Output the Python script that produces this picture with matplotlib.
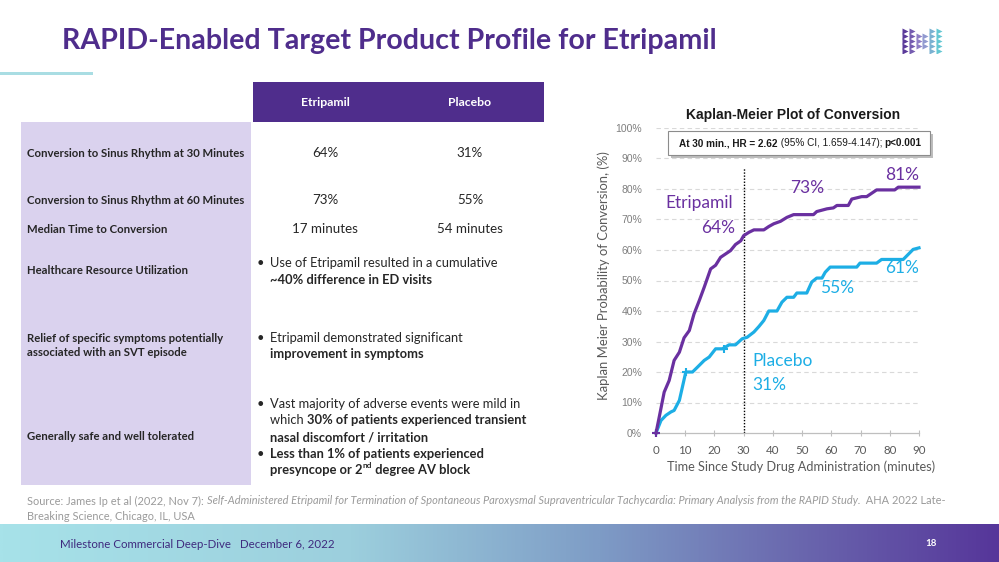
import matplotlib
matplotlib.use('Agg')
import matplotlib.pyplot as plt
import numpy as np
from matplotlib.patches import Rectangle
from matplotlib.colors import LinearSegmentedColormap

# ---------------- data ----------------
etr_time = [0, 1.1, 2.8, 4.5, 6.2, 8.0, 9.6, 11.4, 13.0, 14.8, 16.5, 18.7, 20.4, 22.1,
            23.8, 25.5, 27.2, 29.0, 30.0, 31.8, 33.5, 36.9, 38.6, 40.3, 42.6, 44.8,
            47.1, 53.9, 55.0, 58.5, 60.7, 61.9, 65.8, 67.0, 70.4, 72.1, 75.5, 81.7,
            82.9, 90.0]
etr_prob = [0, 5.2, 13.4, 17.2, 23.8, 26.5, 31.2, 33.6, 39.0, 43.4, 47.8, 53.8, 55.0, 57.6,
            58.7, 59.8, 61.8, 63.0, 64.7, 65.8, 66.6, 66.6, 67.7, 68.6, 69.4, 70.7,
            71.6, 71.6, 72.6, 73.5, 73.8, 74.6, 74.6, 76.7, 77.5, 77.5, 79.7, 79.7,
            80.6, 80.6]
pla_time = [0, 1.7, 3.4, 5.1, 6.2, 8.0, 10.2, 12.5, 14.2, 16.5, 18.2, 20.4, 22.7, 23.8,
            25.0, 27.2, 29.5, 31.2, 33.5, 35.2, 36.9, 38.6, 41.4, 43.1, 44.8, 47.1,
            48.2, 51.6, 53.3, 55.0, 56.8, 57.9, 59.6, 68.7, 69.8, 75.5, 77.2, 84.6,
            88.0, 90.0]
pla_prob = [0, 4.1, 5.8, 6.9, 7.4, 10.7, 20.0, 20.0, 21.6, 23.8, 24.9, 27.6, 27.6, 28.2,
            28.9, 28.9, 30.9, 31.4, 33.1, 34.9, 36.9, 40.0, 40.0, 42.9, 44.5, 44.5,
            45.9, 45.9, 49.5, 50.8, 50.8, 52.7, 54.4, 54.4, 55.7, 55.7, 56.9, 56.9,
            60.2, 60.7]
pla_censor_time = [0, 10.2, 23.3]
pla_censor_prob = [0, 20.0, 27.6]

xticks = list(range(0, 100, 10))
yticks = list(range(0, 110, 10))
ytick_labels = [f"{v}%" for v in yticks]

columns = ['Etripamil', 'Placebo']
row_labels = ['Conversion to Sinus Rhythm at 30 Minutes',
              'Conversion to Sinus Rhythm at 60 Minutes',
              'Median Time to Conversion',
              'Healthcare Resource Utilization',
              'Relief of specific symptoms potentially\nassociated with an SVT episode',
              'Generally safe and well tolerated']
etr_values = ['64%', '73%', '17 minutes']
pla_values = ['31%', '55%', '54 minutes']

# ---------------- style ----------------
W, H = 999, 562
PURPLE = '#4F2D8C'
ETR_C = '#6A30A0'
PLA_C = '#1DAEE5'
LAV = '#DAD2EE'
TXT = '#262626'
CAL = ['Lato', 'DejaVu Sans']
ARI = ['Liberation Sans', 'DejaVu Sans']

fig = plt.figure(figsize=(W / 100, H / 100), dpi=100)
fig.patch.set_facecolor('white')
renderer = fig.canvas.get_renderer()


def fx(x):
    return x / W


def fy(y):
    return 1 - y / H


def rect(x0, y0, x1, y1, color, z=0, **kw):
    fig.patches.append(Rectangle((fx(x0), fy(y1)), fx(x1) - fx(x0), fy(y0) - fy(y1),
                                 transform=fig.transFigure, facecolor=color,
                                 edgecolor=kw.pop('ec', 'none'), zorder=z, **kw))


def runs(x, y, parts, size, color=TXT, family=CAL, z=3):
    cur = x
    for p in parts:
        txt, weight = p[0], p[1]
        dy = p[2] if len(p) > 2 else 0
        sz = p[3] if len(p) > 3 else size
        style = p[4] if len(p) > 4 else 'normal'
        t = fig.text(fx(cur), fy(y + dy), txt, fontsize=sz, fontweight=weight,
                     fontstyle=style, color=color, family=family, va='center',
                     ha='left', zorder=z)
        cur += t.get_window_extent(renderer).width
    return cur


# ---------------- title area ----------------
fig.text(fx(62), fy(41), 'RAPID-Enabled Target Product Profile for Etripamil',
         fontsize=20.6, fontweight='bold', color=PURPLE, family=CAL, va='center', ha='left')
rect(0, 72, 93, 74.5, '#A9DDE3')

# logo: small triangles
logo_ax = fig.add_axes([fx(902), fy(53), fx(40), (53 - 28) / H])
logo_ax.set_xlim(-0.5, 5.5)
logo_ax.set_ylim(-0.5, 4.5)
logo_ax.axis('off')
cmap_logo = LinearSegmentedColormap.from_list('lg', ['#5B3A9A', '#9C8FD0', '#63C7D2'])
for c in range(6):
    rows = range(5) if c in (0, 1, 4, 5) else (1, 2, 3)
    for r in rows:
        logo_ax.plot(c, r, marker='>', ms=4.0, color=cmap_logo(c / 5), mec='none')

# ---------------- table ----------------
rect(253, 82, 544, 122, PURPLE)
fig.text(fx(325), fy(102), columns[0], fontsize=8.8, fontweight='bold', color='white',
         family=CAL, ha='center', va='center')
fig.text(fx(470), fy(102), columns[1], fontsize=8.8, fontweight='bold', color='white',
         family=CAL, ha='center', va='center')
rect(21, 122, 251, 485, LAV)

label_y = [153, 200, 229, 270, 345.5, 437]
for lab, yy in zip(row_labels, label_y):
    fig.text(fx(27), fy(yy), lab, fontsize=8.2, fontweight='bold', color=TXT,
             family=CAL, ha='left', va='center', linespacing=1.3)

VS = 9.6
for v, yy in zip(etr_values, label_y[:3]):
    fig.text(fx(325), fy(yy), v, fontsize=VS, color=TXT, family=CAL, ha='center', va='center')
for v, yy in zip(pla_values, label_y[:3]):
    fig.text(fx(470), fy(yy), v, fontsize=VS, color=TXT, family=CAL, ha='center', va='center')

BS = 9.3
bullet_x, text_x = 257, 270
bullets = [
    (263, True, [('Use of Etripamil resulted in a cumulative', 'normal')]),
    (280, False, [('~40% difference in ED visits', 'bold')]),
    (338, True, [('Etripamil demonstrated significant', 'normal')]),
    (354, False, [('improvement in symptoms', 'bold')]),
    (404, True, [('Vast majority of adverse events were mild in', 'normal')]),
    (420, False, [('which ', 'normal'), ('30% of patients experienced transient', 'bold')]),
    (437, False, [('nasal discomfort / irritation', 'bold')]),
    (454, True, [('Less than 1% of patients experienced', 'bold')]),
    (470, False, [('presyncope or 2', 'bold'), ('nd', 'bold', -4, 6.0), (' degree AV block', 'bold')]),
]
for yy, has_b, parts in bullets:
    if has_b:
        fig.text(fx(bullet_x), fy(yy), '\u2022', fontsize=BS, color=TXT, family=CAL,
                 ha='left', va='center')
    runs(text_x, yy, parts, BS)

# ---------------- source ----------------
SRC_C = '#9A9A9A'
SS = 7.9
runs(27, 501, [('Source: James Ip et al (2022, Nov 7): ', 'normal'),
               ('Self-Administered Etripamil for Termination of Spontaneous Paroxysmal '
                'Supraventricular Tachycardia: Primary Analysis from the RAPID Study.',
                'normal', 0, SS, 'italic'),
               ('  AHA 2022 Late-', 'normal')], SS, color=SRC_C)
fig.text(fx(27), fy(516), 'Breaking Science, Chicago, IL, USA', fontsize=SS, color=SRC_C,
         family=CAL, va='center')

# ---------------- footer ----------------
foot = fig.add_axes([0, 0, 1, (H - 524) / H], zorder=-1)
grad_cmap = LinearSegmentedColormap.from_list(
    'ft', [(0, '#A7E2E9'), (0.35, '#9CCFDD'), (0.6, '#7E9CC6'), (0.8, '#6A67AE'), (1, '#56369A')])
foot.imshow(np.linspace(0, 1, 512)[None, :], aspect='auto', cmap=grad_cmap,
            extent=[0, 1, 0, 1])
foot.axis('off')
fig.text(fx(60), fy(544), 'Milestone Commercial Deep-Dive   December 6, 2022', fontsize=8.3,
         color='#3E2A7E', family=CAL, va='center', ha='left')
fig.text(fx(931), fy(544), '18', fontsize=7, fontweight='bold', color='white', family=CAL,
         va='center', ha='center')

# ---------------- KM chart ----------------
ax = fig.add_axes([fx(656), fy(433), fx(919) - fx(656), fy(128) - fy(433)])
ax.set_xlim(0, 90)
ax.set_ylim(0, 100)
ax.set_facecolor('none')
for s in ['left', 'right', 'top']:
    ax.spines[s].set_visible(False)
ax.spines['bottom'].set_color('#BFBFBF')
ax.spines['bottom'].set_linewidth(0.9)
ax.set_yticks(yticks)
ax.set_yticklabels(ytick_labels, family=ARI, fontsize=7.5, color='#7F7F7F')
ax.set_xticks(xticks)
ax.set_xticklabels([str(v) for v in xticks], family=CAL, fontsize=8.3, color='#595959')
ax.tick_params(axis='y', length=0, pad=10)
ax.tick_params(axis='x', direction='inout', length=5, color='#BFBFBF', pad=6)
for v in yticks[1:]:
    ax.axhline(v, color='#D9D9D9', lw=0.8, ls=(0, (4, 3)), zorder=0)
ax.set_xlabel('Time Since Study Drug Administration (minutes)', family=CAL, fontsize=9.2,
              color='#595959')
ax.xaxis.set_label_coords((801 - 656) / (919 - 656), -(467 - 433) / (433 - 128))
ax.set_ylabel('Kaplan Meier Probability of Conversion, (%)', family=CAL, fontsize=9.4,
              color='#595959')
ax.yaxis.set_label_coords(-(656 - 604) / (919 - 656), (433 - 276) / (433 - 128))
ax.yaxis.label.set_va('center')
ax.xaxis.label.set_va('center')

ax.plot([30, 30], [0, 87], ls=(0, (1, 1.2)), color='black', lw=1, zorder=2)
ax.plot(pla_time, pla_prob, color=PLA_C, lw=2.3, solid_joinstyle='round', zorder=3, clip_on=False)
ax.plot(etr_time, etr_prob, color=ETR_C, lw=2.3, solid_joinstyle='round', zorder=4, clip_on=False)
ax.plot(pla_censor_time, pla_censor_prob, ls='none', marker='+', ms=6, mew=1.5, color=PLA_C,
        zorder=4, clip_on=False)
ax.plot([0], [0], ls='none', marker='+', ms=6, mew=1.5, color=ETR_C, zorder=5, clip_on=False)

LS = 12.5
ax.text(3.1, 75.4, 'Etripamil', fontsize=LS, color=ETR_C, family=CAL, va='center', ha='left')
ax.text(27.0, 67.2, '64%', fontsize=LS, color=ETR_C, family=CAL, va='center', ha='right')
ax.text(45.9, 80.3, '73%', fontsize=LS, color=ETR_C, family=CAL, va='center', ha='left')
ax.text(90.0, 84.6, '81%', fontsize=LS, color=ETR_C, family=CAL, va='center', ha='right')
ax.text(56.1, 47.5, '55%', fontsize=LS, color=PLA_C, family=CAL, va='center', ha='left')
ax.text(90.0, 54.1, '61%', fontsize=LS, color=PLA_C, family=CAL, va='center', ha='right')
ax.text(32.9, 23.6, 'Placebo', fontsize=LS, color=PLA_C, family=CAL, va='center', ha='left')
ax.text(32.9, 15.7, '31%', fontsize=LS, color=PLA_C, family=CAL, va='center', ha='left')

fig.text(fx(793), fy(115), 'Kaplan-Meier Plot of Conversion', fontsize=10, fontweight='bold',
         color='#1A1A1A', family=ARI, ha='center', va='center')

# annotation box with shadow
rect(671, 134, 933, 158, '#BDBDBD', z=5)
rect(668, 131, 930, 155, 'white', z=6, ec='#8C8C8C', lw=0.8)
runs(679, 143, [('At 30 min., HR = 2.62', 'bold'), (' (95% CI, 1.659-4.147); ', 'normal'),
                ('p<0.001', 'bold')], 7.2, color='#1A1A1A', family=ARI, z=7)

fig.savefig('out.png', dpi=100, facecolor='white')
